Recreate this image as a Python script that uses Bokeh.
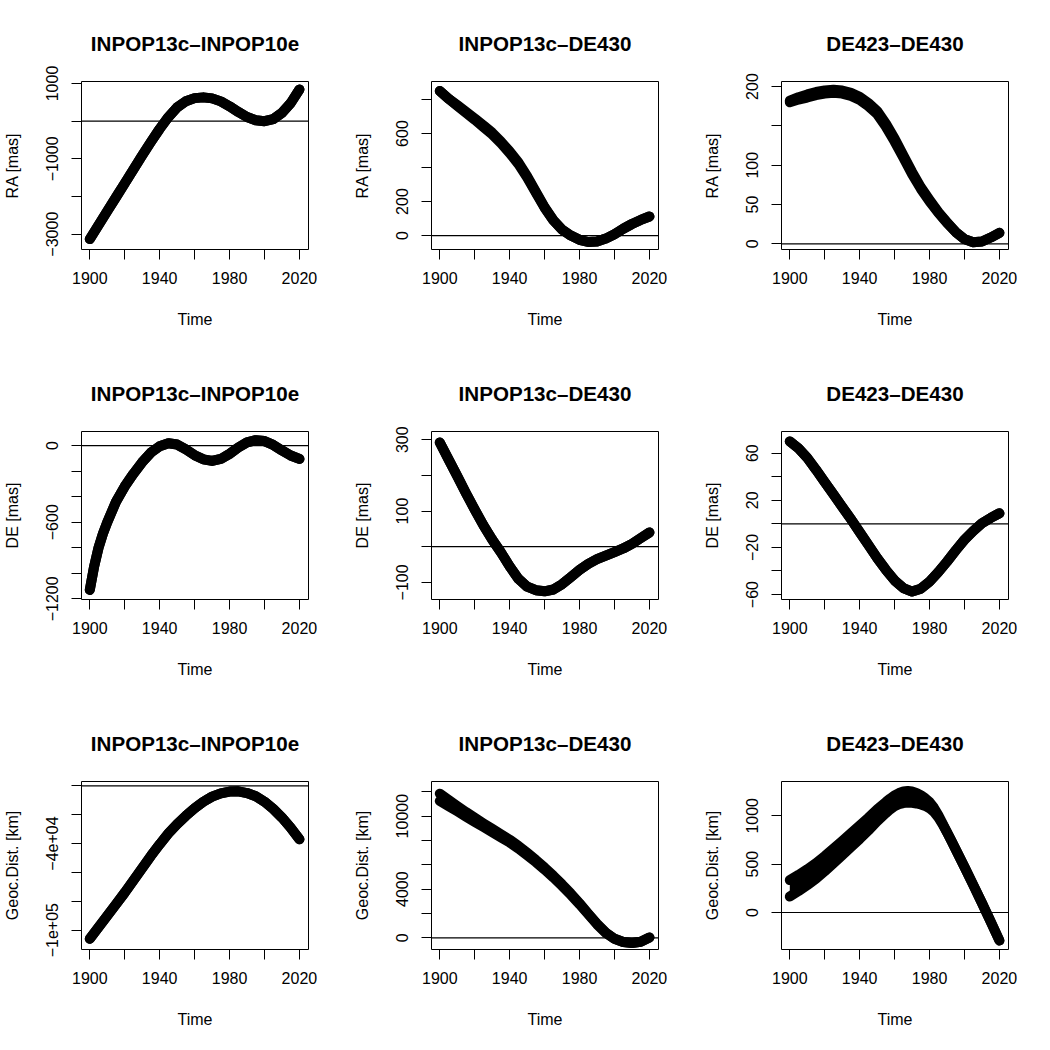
from bokeh.plotting import figure
from bokeh.layouts import gridplot
from bokeh.models import Range1d, FixedTicker, Span
from bokeh.embed import file_html
from bokeh.resources import INLINE

# ---------------- data ----------------
YEARS = [1900, 1905, 1910, 1915, 1920, 1925, 1930, 1935, 1940, 1945, 1950, 1955,
         1960, 1965, 1970, 1975, 1980, 1985, 1990, 1995, 2000, 2005, 2010, 2015, 2020]
YEARS_DE1 = [1900, 1902.5, 1905, 1907.5, 1910, 1915, 1920, 1925, 1930, 1935, 1940, 1945, 1950,
             1955, 1960, 1965, 1970, 1975, 1980, 1985, 1990, 1995, 2000, 2005, 2010, 2015, 2020]
YEARS_GD3 = [1900, 1905, 1910, 1915, 1920, 1925, 1930, 1935, 1940, 1945, 1950, 1955,
             1957.5, 1960, 1962.5, 1965, 1967.5, 1970, 1972.5, 1975, 1977.5, 1980, 1982.5,
             1985, 1987.5, 1990, 1992.5, 1995, 2000, 2005, 2010, 2015, 2020]

X_TICKS = [1900, 1920, 1940, 1960, 1980, 2000, 2020]
X_TICK_LABELS = ["1900", "", "1940", "", "1980", "", "2020"]

TITLES = ["INPOP13c–INPOP10e", "INPOP13c–DE430", "DE423–DE430"]
Y_LABELS = ["RA [mas]", "DE [mas]", "Geoc.Dist. [km]"]

# RA differences [mas] (band centre and half spread)
RA_I13_I10 = [-3130, -2760, -2390, -2020, -1650, -1280, -910, -550, -205, 110, 365, 530,
              612, 632, 605, 525, 395, 245, 110, 25, 0, 55, 220, 480, 840]
RA_I13_I10_SPREAD = [0] * 25
RA_I13_D430 = [850, 805, 765, 725, 685, 643, 600, 548, 490, 425, 345, 255,
               165, 90, 35, 0, -25, -38, -35, -18, 8, 40, 68, 92, 112]
RA_I13_D430_SPREAD = [0, 0, 2, 3, 4, 5, 5, 5, 5, 5, 4, 3, 2, 1, 0, 0, 0, 0, 0, 0, 0, 0, 0, 0, 0]
RA_D423_D430 = [181, 185, 188, 191, 193, 194, 193, 190, 185, 177, 167, 151,
                132, 111, 90, 71, 55, 40, 27, 15, 6, 2, 3, 8, 14]
RA_D423_D430_SPREAD = [1, 1.5, 2, 2, 2, 2, 2, 2, 2, 2, 2, 2, 2, 1.5, 1.5, 1, 1, 0.5, 0.5, 0, 0, 0, 0, 0, 0]

# DE differences [mas]
DE_I13_I10 = [-1130, -945, -800, -690, -600, -440, -320, -220, -130, -55, -5, 18, 8,
              -30, -75, -108, -120, -105, -65, -15, 25, 42, 35, 5, -38, -78, -105]
DE_I13_I10_SPREAD = [0] * 27
DE_I13_D430 = [292, 245, 198, 150, 104, 60, 20, -16, -55, -90, -112, -122,
               -125, -120, -105, -85, -65, -48, -35, -25, -15, -5, 8, 24, 40]
DE_I13_D430_SPREAD = [0] * 25
DE_D423_D430 = [70, 64, 56, 46, 35.5, 25, 14.5, 4, -7, -18, -29, -39,
                -48, -54.5, -57.5, -55, -49, -41, -32, -22.5, -13.5, -6, 0.5, 5, 9]
DE_D423_D430_SPREAD = [0] * 25

# Geocentric distance differences [km]
GD_I13_I10 = [-106000, -98000, -90000, -82000, -74000, -65500, -57000, -48500, -40500, -33000,
              -26500, -20800, -15500, -11000, -7500, -5200, -4000, -3800, -5000, -7200,
              -11000, -16000, -22000, -29000, -37000]
GD_I13_I10_SPREAD = [0] * 25
GD_I13_D430 = [11550, 11090, 10620, 10150, 9700, 9260, 8820, 8390, 7950, 7450, 6890, 6310,
               5690, 5030, 4330, 3590, 2800, 1960, 1130, 420, -80, -340, -420, -320, 30]
GD_I13_D430_SPREAD = [300, 260, 220, 190, 170, 150, 140, 130, 120, 110, 100, 90,
                      80, 70, 60, 50, 40, 30, 20, 10, 0, 0, 0, 0, 0]
GD_D423_D430 = [250, 305, 365, 430, 505, 585, 665, 748, 830, 915, 1005, 1085,
                1123, 1155, 1178, 1192, 1197, 1193, 1182, 1165, 1142, 1110, 1062,
                995, 915, 830, 742, 652, 470, 285, 98, -95, -290]
GD_D423_D430_SPREAD = [85, 84, 82, 80, 78, 76, 74, 72, 70, 66, 62, 58,
                       56, 56, 58, 60, 60, 58, 54, 48, 40, 32, 22,
                       12, 4, 0, 0, 0, 0, 0, 0, 0, 0]

# axis ranges and ticks per panel
X_RANGE = (1895.25, 2025.2)
Y_RANGES = [(-3407, 1053), (-82, 906), (-7.2, 206.4),
            (-1205, 110), (-148, 323), (-64.2, 78.4),
            (-113400, 3000), (-960, 12850), (-383, 1355)]
Y_TICKS = [[-3000, -2000, -1000, 0, 1000], [0, 200, 400, 600, 800], [0, 50, 100, 150, 200],
           [-1200, -1000, -800, -600, -400, -200, 0], [-100, 0, 100, 200, 300],
           [-60, -40, -20, 0, 20, 40, 60],
           [-100000, -80000, -60000, -40000, -20000, 0], [0, 2000, 4000, 6000, 8000, 10000, 12000],
           [0, 500, 1000]]
Y_TICK_LABELS = [["−3000", "", "−1000", "", "1000"], ["0", "200", "", "600", ""],
                 ["0", "50", "100", "", "200"],
                 ["−1200", "", "", "−600", "", "", "0"], ["−100", "", "100", "", "300"],
                 ["−60", "", "−20", "", "20", "", "60"],
                 ["−1e+05", "", "", "−4e+04", "", ""], ["0", "", "4000", "", "", "10000", ""],
                 ["0", "500", "1000"]]

SERIES = [(YEARS, RA_I13_I10, RA_I13_I10_SPREAD), (YEARS, RA_I13_D430, RA_I13_D430_SPREAD),
          (YEARS, RA_D423_D430, RA_D423_D430_SPREAD),
          (YEARS_DE1, DE_I13_I10, DE_I13_I10_SPREAD), (YEARS, DE_I13_D430, DE_I13_D430_SPREAD),
          (YEARS, DE_D423_D430, DE_D423_D430_SPREAD),
          (YEARS, GD_I13_I10, GD_I13_I10_SPREAD), (YEARS, GD_I13_D430, GD_I13_D430_SPREAD),
          (YEARS_GD3, GD_D423_D430, GD_D423_D430_SPREAD)]

FONT = "Liberation Sans"
COL_WIDTHS = [350, 350, 340]
ROW_HEIGHTS = [350, 350, 340]
FRAME_W, FRAME_H = 227, 168
BORDER_LEFT, BORDER_TOP = 81, 81


def style_axis(ax):
    ax.axis_line_color = "black"
    ax.axis_line_width = 1
    ax.major_tick_line_color = "black"
    ax.major_tick_line_width = 1
    ax.major_tick_out = 10
    ax.major_tick_in = 0
    ax.minor_tick_line_color = None
    ax.major_label_text_font = FONT
    ax.major_label_text_font_size = "16px"
    ax.major_label_text_color = "black"
    ax.axis_label_text_font = FONT
    ax.axis_label_text_font_size = "16px"
    ax.axis_label_text_font_style = "normal"
    ax.axis_label_text_color = "black"


def make_panel(i):
    row, col = divmod(i, 3)
    years, center, spread = SERIES[i]
    lo = [c - s for c, s in zip(center, spread)]
    hi = [c + s for c, s in zip(center, spread)]
    p = figure(frame_width=FRAME_W, frame_height=FRAME_H,
               x_range=Range1d(*X_RANGE), y_range=Range1d(*Y_RANGES[i]),
               output_backend="svg", toolbar_location=None,
               min_border_left=BORDER_LEFT,
               min_border_right=COL_WIDTHS[col] - BORDER_LEFT - FRAME_W,
               min_border_top=BORDER_TOP,
               min_border_bottom=ROW_HEIGHTS[row] - BORDER_TOP - FRAME_H,
               title=TITLES[col])
    p.background_fill_color = "white"
    p.border_fill_color = "white"
    p.outline_line_color = "black"
    p.outline_line_width = 1
    p.outline_line_alpha = 1
    p.grid.visible = False

    p.title.text_font = FONT
    p.title.text_font_size = "20.6px"
    p.title.text_font_style = "bold"
    p.title.text_color = "black"
    p.title.align = "center"
    p.title.standoff = 54

    xa = p.xaxis[0]
    style_axis(xa)
    xa.ticker = FixedTicker(ticks=X_TICKS)
    xa.major_label_overrides = {t: l for t, l in zip(X_TICKS, X_TICK_LABELS)}
    xa.bounds = (X_TICKS[0], X_TICKS[-1])
    xa.axis_label = "Time"
    xa.major_label_standoff = 12
    xa.axis_label_standoff = 24

    ya = p.yaxis[0]
    style_axis(ya)
    ya.ticker = FixedTicker(ticks=Y_TICKS[i])
    ya.major_label_overrides = {t: l for t, l in zip(Y_TICKS[i], Y_TICK_LABELS[i])}
    ya.bounds = (min(Y_TICKS[i]), max(Y_TICKS[i]))
    ya.major_label_orientation = "parallel"
    ya.major_label_standoff = 13
    ya.axis_label = Y_LABELS[row]
    ya.axis_label_standoff = 23

    p.varea(x=years, y1=lo, y2=hi, fill_color="black")
    p.line(years, hi, line_width=10, line_color="black", line_cap="round", line_join="round")
    p.line(years, lo, line_width=10, line_color="black", line_cap="round", line_join="round")
    p.add_layout(Span(location=0, dimension="width", line_color="black", line_width=1.2))
    return p


panels = [make_panel(i) for i in range(9)]
grid = gridplot([panels[0:3], panels[3:6], panels[6:9]], toolbar_location=None)

open("out.html", "w").write(file_html(grid, INLINE))
